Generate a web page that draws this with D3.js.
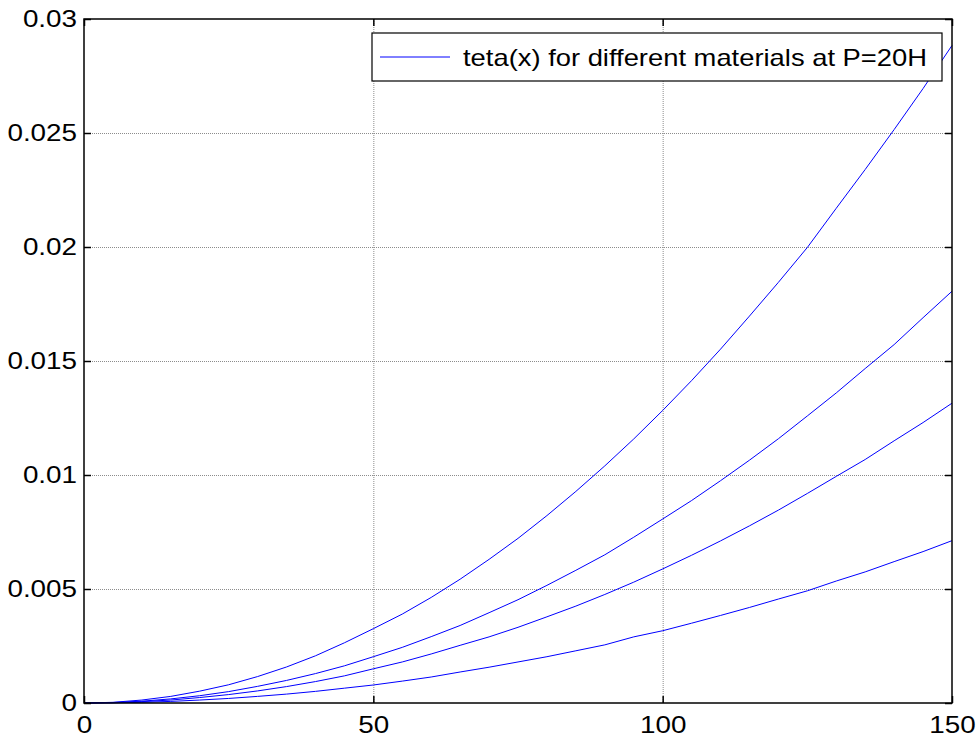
<!DOCTYPE html>
<html>
<head>
<meta charset="utf-8">
<script src="https://cdn.jsdelivr.net/npm/d3@7"></script>
<style>
  body { margin: 0; background: #fff; }
  svg { display: block; }
  text { font-family: "Liberation Sans", Arial, sans-serif; fill: #000; }
</style>
</head>
<body>
<svg id="chart" width="980" height="741"></svg>
<script>
// x positions (step 5)
const xs = [0, 5, 10, 15, 20, 25, 30, 35, 40, 45, 50, 55, 60, 65, 70, 75, 80, 85, 90, 95, 100,
            105, 110, 115, 120, 125, 130, 135, 140, 145, 150];

// teta(x) for four materials
const tetaA = [0, 0.00003, 0.00013, 0.00029, 0.00052, 0.00080, 0.00116, 0.00158, 0.00207, 0.00264, 0.00326,
               0.00390, 0.00463, 0.00543, 0.00630, 0.00722, 0.00822, 0.00928, 0.01040, 0.01158, 0.01283,
               0.01414, 0.01552, 0.01697, 0.01845, 0.01998, 0.02170, 0.02340, 0.02515, 0.02695, 0.02884];
const tetaB = [0, 0.00002, 0.00008, 0.00018, 0.00032, 0.00050, 0.00073, 0.00099, 0.00129, 0.00163, 0.00203,
               0.00244, 0.00291, 0.00340, 0.00396, 0.00453, 0.00516, 0.00582, 0.00650, 0.00727, 0.00807,
               0.00888, 0.00975, 0.01065, 0.01159, 0.01259, 0.01360, 0.01467, 0.01572, 0.01690, 0.01806];
const tetaC = [0, 0.00001, 0.00006, 0.00013, 0.00024, 0.00037, 0.00053, 0.00072, 0.00094, 0.00119, 0.00150,
               0.00180, 0.00215, 0.00253, 0.00290, 0.00332, 0.00378, 0.00425, 0.00476, 0.00530, 0.00588,
               0.00648, 0.00711, 0.00777, 0.00846, 0.00919, 0.00994, 0.01068, 0.01150, 0.01230, 0.01315];
const tetaD = [0, 0.00001, 0.00003, 0.00007, 0.00013, 0.00020, 0.00029, 0.00039, 0.00051, 0.00065, 0.00079,
               0.00096, 0.00114, 0.00136, 0.00157, 0.00180, 0.00203, 0.00229, 0.00255, 0.00290, 0.00317,
               0.00350, 0.00384, 0.00419, 0.00456, 0.00492, 0.00535, 0.00575, 0.00620, 0.00664, 0.00712];

const xTicks = [0, 50, 100, 150];
const yTicks = [0, 0.005, 0.01, 0.015, 0.02, 0.025, 0.03];
const legendLabel = "teta(x) for different materials at P=20H";

const margin = { left: 84, right: 28, top: 19, bottom: 38 };
const W = 980, H = 741;
const stretch = 1.16; // text in the picture is a bit wider than normal

const svg = d3.select("#chart");

const x = d3.scaleLinear().domain([0, 150]).range([margin.left, W - margin.right]);
const y = d3.scaleLinear().domain([0, 0.03]).range([H - margin.bottom, margin.top]);

// grid (dotted)
const grid = svg.append("g").attr("stroke", "#8c8c8c").attr("stroke-width", 1).attr("stroke-dasharray", "1,1");
grid.selectAll(".gx")
    .data(xTicks.slice(1, -1))
    .enter().append("line")
    .attr("x1", d => x(d) + 0.5).attr("x2", d => x(d) + 0.5)
    .attr("y1", y(0.03)).attr("y2", y(0));
grid.selectAll(".gy")
    .data(yTicks.slice(1, -1))
    .enter().append("line")
    .attr("x1", x(0)).attr("x2", x(150))
    .attr("y1", d => y(d) + 0.5).attr("y2", d => y(d) + 0.5);

// curves
const line = d3.line().x((d, i) => x(xs[i])).y(d => y(d));
svg.append("g")
    .selectAll("path")
    .data([tetaA, tetaB, tetaC, tetaD])
    .enter().append("path")
    .attr("d", line)
    .attr("fill", "none")
    .attr("stroke", "#0000ff")
    .attr("stroke-width", 1);

// axes with inward ticks
const fmt = d => d === 0 ? "0" : String(+d.toFixed(3));
const axBottom = svg.append("g")
    .attr("transform", `translate(0,${y(0)})`)
    .call(d3.axisBottom(x).tickValues(xTicks).tickSizeInner(-7).tickSizeOuter(0).tickPadding(13).tickFormat(d => d));
const axLeft = svg.append("g")
    .attr("transform", `translate(${x(0)},0)`)
    .call(d3.axisLeft(y).tickValues(yTicks).tickSizeInner(-7).tickSizeOuter(0).tickPadding(6).tickFormat(fmt));
const axTop = svg.append("g")
    .attr("transform", `translate(0,${y(0.03)})`)
    .call(d3.axisTop(x).tickValues(xTicks).tickSizeInner(-7).tickSizeOuter(0).tickFormat(""));
const axRight = svg.append("g")
    .attr("transform", `translate(${x(150)},0)`)
    .call(d3.axisRight(y).tickValues(yTicks).tickSizeInner(-7).tickSizeOuter(0).tickFormat(""));

[axBottom, axLeft, axTop, axRight].forEach(g => {
    g.select(".domain").remove();
    g.selectAll(".tick line").attr("stroke", "#000").attr("stroke-width", 1.5);
    g.selectAll("text")
        .attr("font-size", 24)
        .attr("font-family", "Liberation Sans, Arial, sans-serif")
        .attr("transform", `scale(${stretch},1)`);
});

// box
svg.append("rect")
    .attr("x", x(0)).attr("y", y(0.03))
    .attr("width", x(150) - x(0)).attr("height", y(0) - y(0.03))
    .attr("fill", "none").attr("stroke", "#000").attr("stroke-width", 1.5);

// legend
const lg = svg.append("g").attr("transform", "translate(372,33)");
lg.append("rect")
    .attr("width", 570).attr("height", 48)
    .attr("fill", "#fff").attr("stroke", "#000").attr("stroke-width", 1.2);
lg.append("line")
    .attr("x1", 8).attr("x2", 78).attr("y1", 24).attr("y2", 24)
    .attr("stroke", "#0000ff").attr("stroke-width", 1);
lg.append("text")
    .attr("x", 91).attr("y", 33)
    .attr("font-size", 24)
    .attr("textLength", 464)
    .attr("lengthAdjust", "spacingAndGlyphs")
    .text(legendLabel);
</script>
</body>
</html>
